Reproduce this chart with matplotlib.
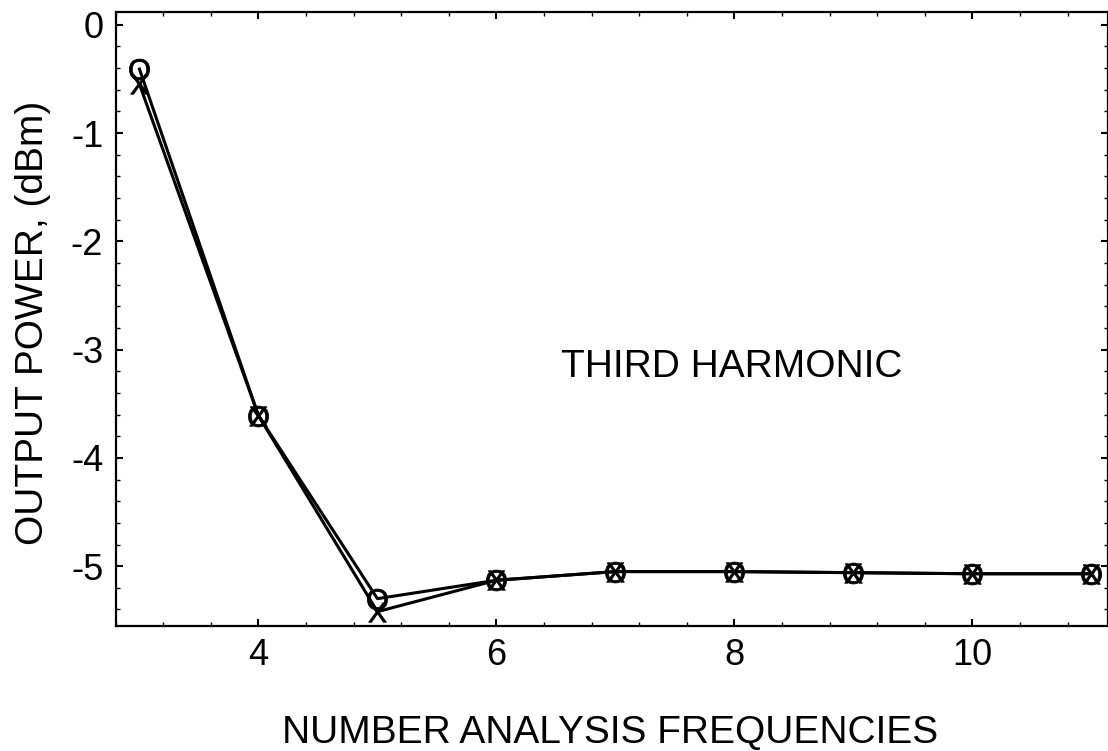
import matplotlib
matplotlib.use("Agg")
import matplotlib.pyplot as plt
from matplotlib.ticker import MultipleLocator

plt.rcParams['font.family'] = ['Liberation Sans', 'DejaVu Sans']
plt.rcParams['mathtext.fontset'] = 'custom'
plt.rcParams['mathtext.rm'] = 'Liberation Sans'
plt.rcParams['mathtext.sf'] = 'Liberation Sans'
plt.rcParams['axes.unicode_minus'] = False

# number of analysis frequencies vs. third harmonic output power
n_freq = [3, 4, 5, 6, 7, 8, 9, 10, 11]
power_o = [-0.41, -3.61, -5.30, -5.13, -5.05, -5.05, -5.06, -5.07, -5.07]
power_x = [-0.55, -3.61, -5.42, -5.13, -5.05, -5.05, -5.06, -5.07, -5.07]

fig = plt.figure(figsize=(11.08, 7.51), dpi=100)
ax = fig.add_axes([0.1044, 0.1668, 0.8956, 0.8176])

ax.plot(n_freq, power_o, color='black', lw=2.2, marker=r'$\mathsf{O}$',
        markersize=15, markeredgewidth=0.6, markerfacecolor='black')
ax.plot(n_freq, power_x, color='black', lw=2.2, marker=r'$\mathsf{X}$',
        markersize=14, markeredgewidth=0.6, markerfacecolor='black')

ax.text(6.54, -3.25, 'THIRD HARMONIC', fontsize=28, ha='left', va='baseline')

ax.set_xlim(2.8, 11.14)
ax.set_ylim(-5.55, 0.12)

ax.xaxis.set_major_locator(MultipleLocator(2))
ax.xaxis.set_minor_locator(MultipleLocator(0.4))
ax.yaxis.set_major_locator(MultipleLocator(1))
ax.yaxis.set_minor_locator(MultipleLocator(0.2))

ax.tick_params(which='both', direction='in', top=True, right=True,
               labelsize=26, pad=9)
ax.tick_params(which='major', length=5, width=1.5)
ax.tick_params(which='minor', length=3, width=1)
for sp in ax.spines.values():
    sp.set_linewidth(1.6)

fig.text(0.551, 0.0107, 'NUMBER ANALYSIS FREQUENCIES', fontsize=28,
         ha='center', va='baseline')
fig.text(0.030, 0.570, 'OUTPUT POWER, (dBm)', fontsize=28, rotation=90,
         ha='center', va='center')

fig.savefig('out.png', dpi=100)
